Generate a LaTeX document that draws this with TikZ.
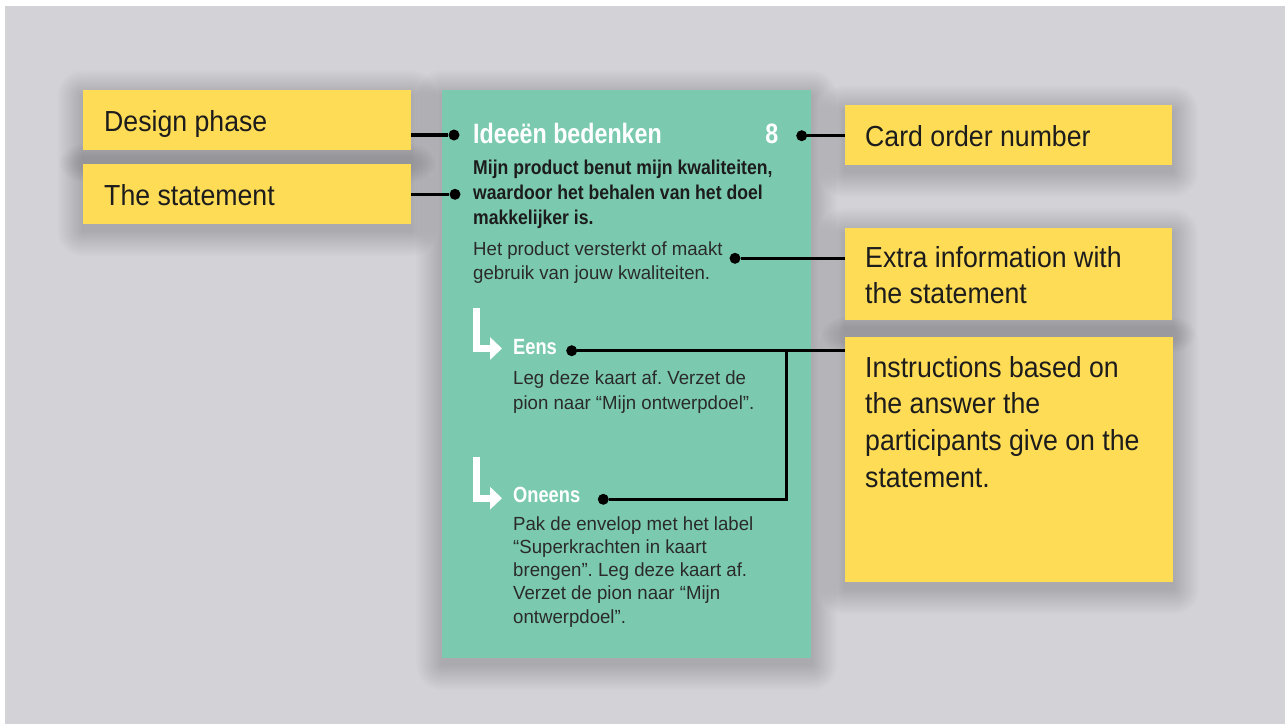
\documentclass[tikz,border=0pt]{standalone}
\usepackage{fontspec}
\setmainfont{Liberation Sans}[FakeStretch=0.92,BoldFeatures={FakeStretch=0.83}]
\newfontfamily\cardfont{Liberation Sans}[FakeStretch=0.98,BoldFeatures={FakeStretch=0.83}]
\newfontfamily\claimfont{Liberation Sans Bold}[FakeStretch=0.88]
\usetikzlibrary{arrows.meta,positioning,backgrounds}

\definecolor{canvas}{HTML}{D3D3D7}
\definecolor{cardgreen}{HTML}{7BCAB0}
\definecolor{noteyellow}{HTML}{FEDC56}
\definecolor{ink}{HTML}{1C1C1C}
\definecolor{softink}{HTML}{2A2A2A}

% soft grey halo, slightly lower than the box
\newcommand{\dropshadow}[1]{%
	\foreach \g in {1,...,20}
		\fill[black,opacity=0.009,rounded corners=1.3*\g pt] ([shift={(-1.3*\g,-1.3*\g+6)}]#1.north west) rectangle ([shift={(1.3*\g,1.3*\g+6)}]#1.south east);
}

\tikzset{
	note/.style={fill=noteyellow,anchor=north west,inner sep=0pt},
	notetext/.style={font=\fontsize{29}{36.6}\selectfont,text=ink,inner sep=0pt,align=left},
	card/.style={fill=cardgreen,anchor=north west,inner sep=0pt,minimum width=369,minimum height=568},
	cardhead/.style={font=\cardfont\bfseries\fontsize{28}{30}\selectfont,text=white,inner sep=0pt},
	cardsub/.style={font=\cardfont\bfseries\fontsize{22}{24}\selectfont,text=white,inner sep=0pt},
	cardbold/.style={font=\claimfont\fontsize{20}{25}\selectfont,text=ink,inner sep=0pt,align=left},
	cardtext/.style={font=\cardfont\fontsize{19}{24.7}\selectfont,text=softink,inner sep=0pt,align=left},
	turn/.style={draw=white,line width=7pt,-{Triangle[length=12pt,width=22pt]}},
	dot/.style={circle,fill=black,inner sep=0pt,minimum size=11pt},
	wire/.style={line width=3.5pt,line join=miter}
}
\frenchspacing

\begin{document}
\begin{tikzpicture}[x=1pt,y=-1pt]
	\useasboundingbox (0,0) rectangle (1288,724);

	% the card itself
	\node[card]					(card)			at	(442,90)		{};
	\node[cardhead, anchor=base west]	(phasename)		at	(473,143.5)		{Ideeën bedenken};
	\node[cardhead, anchor=base east]	(cardno)		at	(778.5,143.5)	{8};
	\node[cardbold, anchor=north west]	(claim)			at	(473,159.4)		{Mijn product benut mijn kwaliteiten,\\waardoor het behalen van het doel\\makkelijker is.};
	\node[cardtext, anchor=north west]	(hint)			at	(473,241.1)		{Het product versterkt of maakt\\gebruik van jouw kwaliteiten.};
	\node[cardsub, anchor=base west]	(agree)			at	(513,354)		{Eens};
	\node[cardtext, anchor=north west]	(agreetxt)		at	(513,370.4)		{Leg deze kaart af. Verzet de\\pion naar “Mijn ontwerpdoel”.};
	\node[cardsub, anchor=base west]	(disagree)		at	(513,502.7)		{Oneens};
	\node[cardtext, anchor=north west, font=\cardfont\fontsize{19}{23.3}\selectfont]
										(disagreetxt)	at	(513,516.1)		{Pak de envelop met het label\\“Superkrachten in kaart\\brengen”. Leg deze kaart af.\\Verzet de pion naar “Mijn\\ontwerpdoel”.};
	\draw[turn] ([shift={(-36.5,-46)}]agree.base west) |- ([shift={(-11,-5.5)}]agree.base west);
	\draw[turn] ([shift={(-36.5,-46)}]disagree.base west) |- ([shift={(-11,-4.5)}]disagree.base west);

	% the notes round it
	\node[note, minimum width=328, minimum height=60]	(phase)		at	(83,90)		{};
	\node[note, minimum width=328, minimum height=60]	(statement)	at	(83,164)	{};
	\node[note, minimum width=327, minimum height=60]	(order)		at	(845,105)	{};
	\node[note, minimum width=327, minimum height=92]	(extra)		at	(845,228)	{};
	\node[note, minimum width=328, minimum height=245]	(instr)		at	(845,337)	{};
	\node[notetext, anchor=base west]	(phasetxt)		at	(104,131.7)		{Design phase};
	\node[notetext, anchor=base west]	(statementtxt)	at	(104,205)		{The statement};
	\node[notetext, anchor=base west]	(ordertxt)		at	(865,146)		{Card order number};
	\node[notetext, anchor=north west]	(extratxt)		at	(865,246.1)		{Extra information with\\the statement};
	\node[notetext, anchor=north west]	(instrtxt)		at	(865,356.1)		{Instructions based on\\the answer the\\participants give on the\\statement.};

	% pointers
	\node[dot]	(phasedot)		at	(454,135)		{};
	\node[dot]	(claimdot)		at	(455,194.3)		{};
	\node[dot]	(numdot)		at	(801.7,135.7)	{};
	\node[dot]	(hintdot)		at	(735,258.3)		{};
	\node[dot]	(agreedot)		at	(571.7,350.7)	{};
	\node[dot]	(disagreedot)	at	(603.3,499.3)	{};
	\coordinate	(fork)			at	(786.7,350.7);
	\draw[wire] (phase.east |- phasedot) -- (phasedot);
	\draw[wire] (statement.east |- claimdot) -- (claimdot);
	\draw[wire] (numdot) -- (numdot -| order.west);
	\draw[wire] (hintdot) -- (hintdot -| extra.west);
	\draw[wire] (agreedot) -- (agreedot -| instr.west);
	\draw[wire] (fork) |- (disagreedot);

	\begin{scope}[on background layer]
		\fill[white] (0,0) rectangle (1288,724);
		\fill[canvas] (5,6) rectangle (1285,724);
		\dropshadow{card}
		\dropshadow{phase}
		\dropshadow{statement}
		\dropshadow{order}
		\dropshadow{extra}
		\dropshadow{instr}
	\end{scope}
\end{tikzpicture}
\end{document}
